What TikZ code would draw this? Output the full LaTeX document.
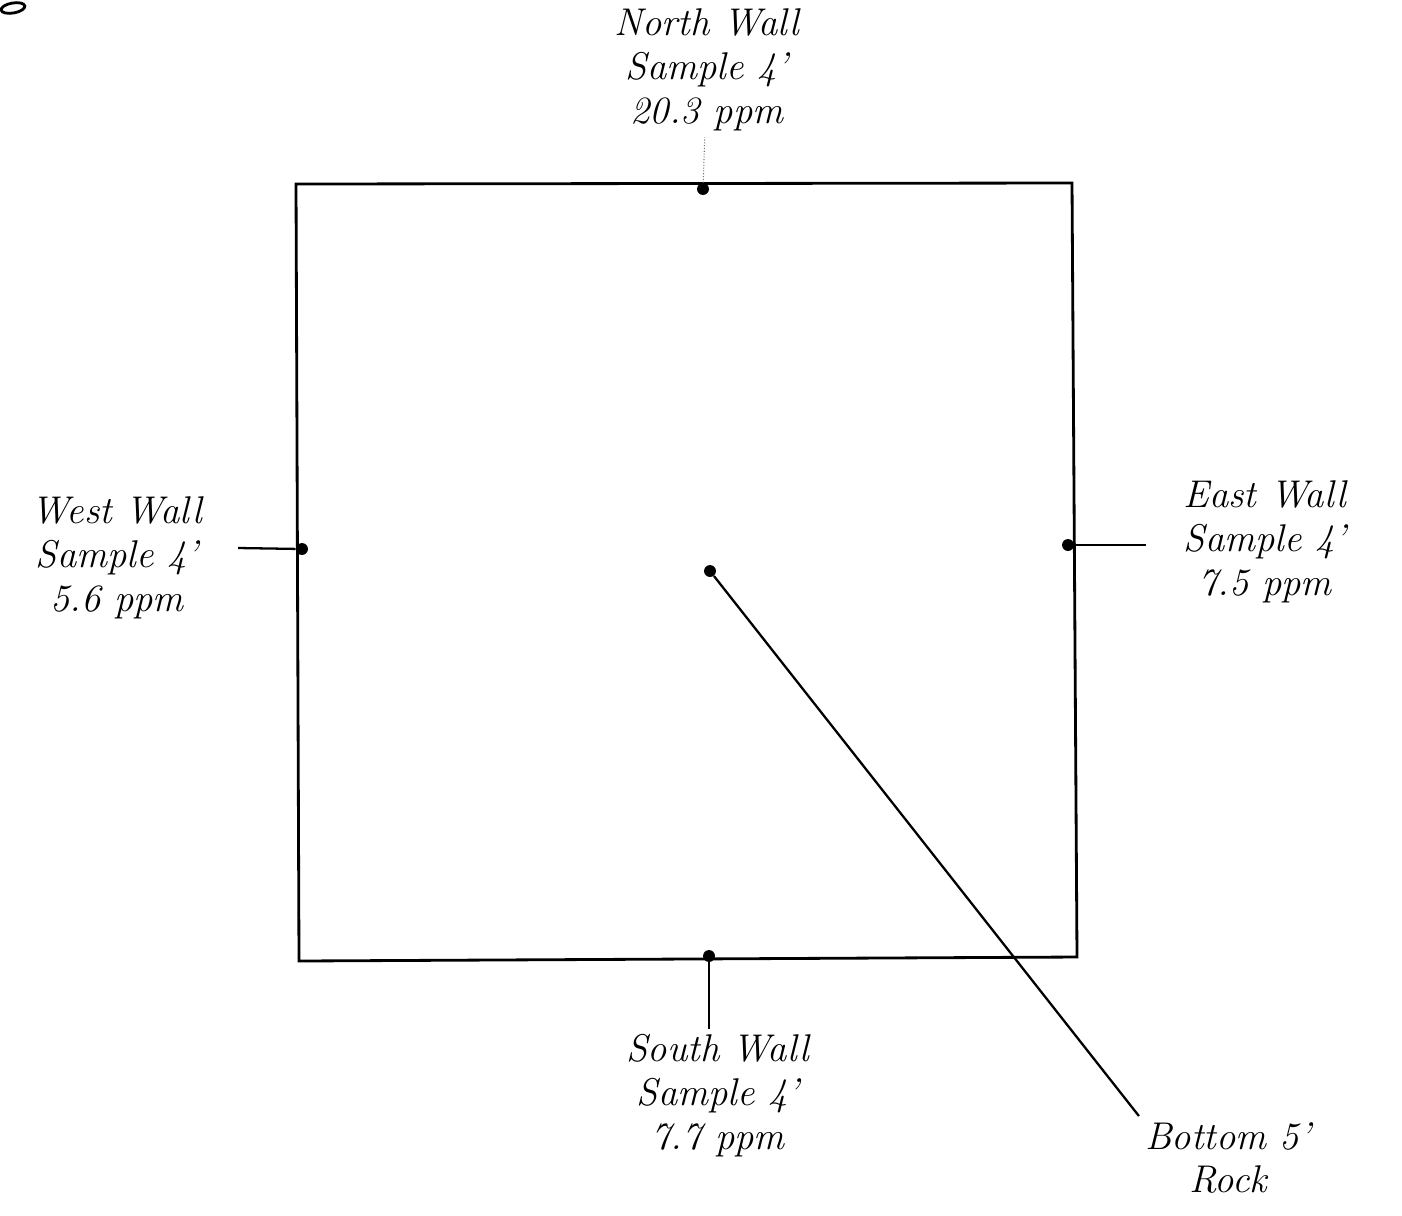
\documentclass[tikz,border=0pt]{standalone}
\usepackage{tikz}
\usetikzlibrary{positioning}
\tikzset{
  wallline/.style  = {line width=1.6pt, black},
  leader/.style    = {line width=1.3pt, black},
  faintleader/.style = {line width=0.6pt, black!55, densely dotted},
  sampledot/.style = {circle, fill=black, inner sep=2.4pt},
  lbl/.style       = {font=\fontsize{22}{25}\selectfont\itshape, align=center},
}
\begin{document}
\begin{tikzpicture}[x=0.02cm,y=-0.02cm]
  \useasboundingbox (0,0) rectangle (1402,1215);
  % excavation outline
  \coordinate (NW) at (296,184); \coordinate (NE) at (1072,183);
  \coordinate (SE) at (1077,957); \coordinate (SW) at (299,961);
  \draw[wallline] (NW) -- (NE) -- (SE) -- (SW) -- cycle;
  % sample points
  \node[sampledot] (north) at (703,189) {};
  \node[sampledot] (west) at (302,549) {};
  \node[sampledot] (east) at (1068,545) {};
  \node[sampledot] (south) at (709,956) {};
  \node[sampledot] (bottom) at (710,571) {};
  % labels
  \node[lbl] (northlbl) at (707,70) {North Wall\\Sample 4'\\20.3 ppm};
  \node[lbl] (westlbl) at (117,558) {West Wall\\Sample 4'\\5.6 ppm};
  \node[lbl] (eastlbl) at (1265,542) {East Wall\\Sample 4'\\7.5 ppm};
  \node[lbl] (southlbl) at (718,1096) {South Wall\\Sample 4'\\7.7 ppm};
  \node[lbl] (bottomlbl) at (1228,1158) {Bottom 5'\\Rock};
  % leaders
  \coordinate (westend) at (238,548);
  \coordinate (eastend) at (1146,545);
  \draw[faintleader] (north) -- (northlbl);
  \draw[leader] (westend) -- (west);
  \draw[leader] (east) -- (eastend);
  \draw[leader] (south) -- (south |- southlbl.north);
  \draw[leader] (bottom) -- (bottomlbl.north west);
  % stray mark in the corner
  \draw[line width=1.6pt, rotate around={10:(13,8)}] (13,8) ellipse (0.24cm and 0.1cm);
\end{tikzpicture}
\end{document}
